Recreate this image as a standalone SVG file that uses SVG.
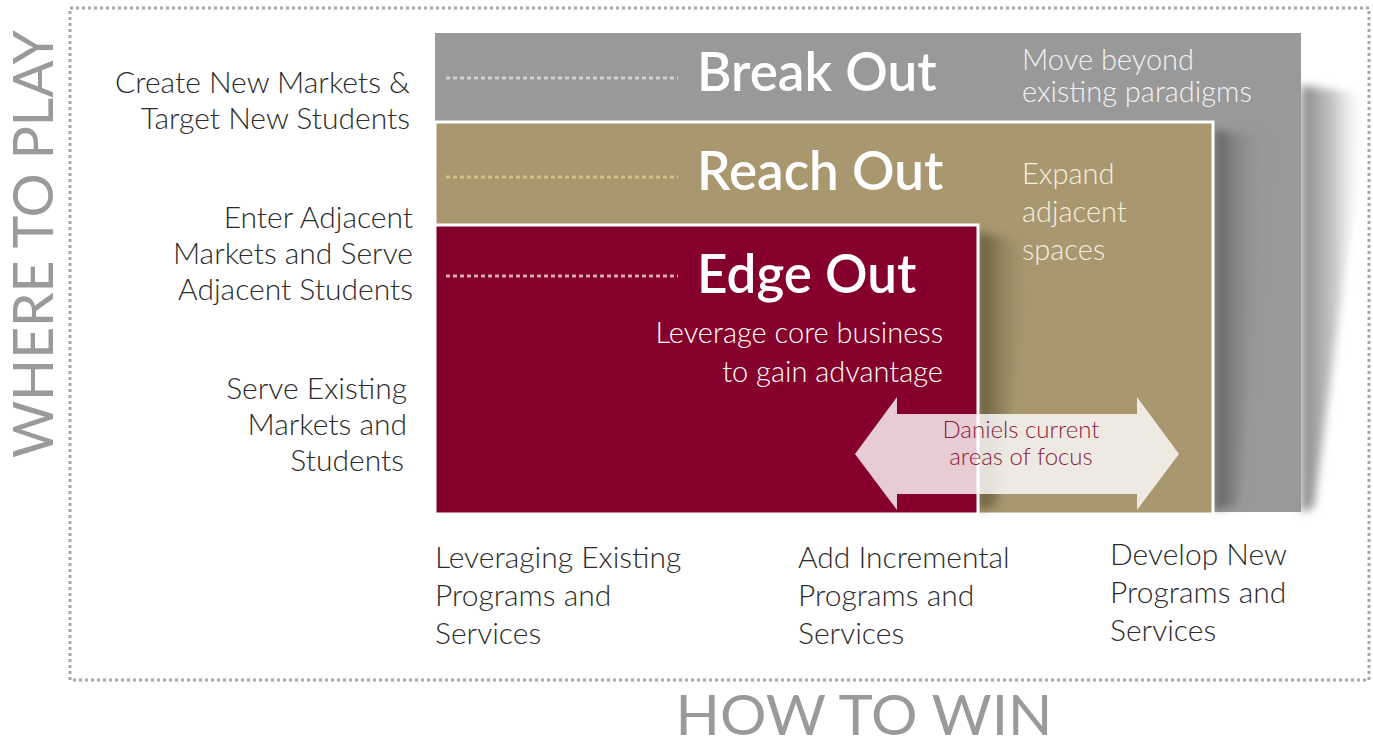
<svg xmlns="http://www.w3.org/2000/svg" width="1373" height="749" viewBox="0 0 1373 749">
<style>
.lbl{font-family:Lato,"Liberation Sans",sans-serif;font-weight:300;font-size:30px;fill:#2b2b2b}
.ttl{font-family:Lato,"Liberation Sans",sans-serif;font-weight:600;font-size:53px;fill:#ffffff}
.sub{font-family:Lato,"Liberation Sans",sans-serif;font-weight:300;font-size:29px}
.foc{font-family:Lato,"Liberation Sans",sans-serif;font-weight:300;font-size:24px;fill:#8a1c3c}
.axis{font-family:Lato,"Liberation Sans",sans-serif;font-weight:400;fill:#9a9a9a}
.dots{stroke-width:3;stroke-dasharray:4 3;fill:none}
</style>
<defs>
<linearGradient id="shW" x1="0" y1="0" x2="1" y2="0">
<stop offset="0" stop-color="#8a8a8a"/><stop offset="0.5" stop-color="#c8c8c8"/><stop offset="1" stop-color="#ffffff" stop-opacity="0"/>
</linearGradient>
<linearGradient id="shG" x1="0" y1="0" x2="1" y2="0">
<stop offset="0" stop-color="#5a5a5a" stop-opacity="0.9"/><stop offset="1" stop-color="#999999" stop-opacity="0"/>
</linearGradient>
<linearGradient id="shT" x1="0" y1="0" x2="1" y2="0">
<stop offset="0" stop-color="#5a5032" stop-opacity="0.9"/><stop offset="1" stop-color="#a8976f" stop-opacity="0"/>
</linearGradient>
<filter id="blur" x="-20%" y="-20%" width="140%" height="140%"><feGaussianBlur stdDeviation="4"/></filter>
</defs>

<rect x="70" y="8" width="1299" height="672" fill="none" stroke="#a8a8a8" stroke-width="3" stroke-dasharray="3 3"/>

<g id="break-out">
<polygon points="1301,85 1368,95 1314,508 1301,512" fill="url(#shW)" filter="url(#blur)"/>
<rect x="435" y="33" width="866" height="479" fill="#999999"/>
<line class="dots" x1="446" y1="78" x2="678" y2="78" stroke="#cfcfcf"/>
<text class="ttl" x="697" y="91">Break Out</text>
<text class="sub" fill="#f2f2f2" x="1022" y="70">Move beyond</text>
<text class="sub" fill="#f2f2f2" x="1022" y="102">existing paradigms</text>
</g>

<g id="reach-out">
<polygon points="1215,130 1268,138 1238,505 1215,510" fill="url(#shG)" filter="url(#blur)"/>
<rect x="435" y="122" width="778" height="392" fill="#a8976f" stroke="#ffffff" stroke-width="3"/>
<line class="dots" x1="446" y1="177" x2="678" y2="177" stroke="#d2c388"/>
<text class="ttl" x="697" y="190">Reach Out</text>
<text class="sub" fill="#f4efe0" x="1022" y="184">Expand</text>
<text class="sub" fill="#f4efe0" x="1022" y="222">adjacent</text>
<text class="sub" fill="#f4efe0" x="1022" y="260">spaces</text>
</g>

<g id="edge-out">
<polygon points="979,232 1032,245 998,505 979,510" fill="url(#shT)" filter="url(#blur)"/>
<rect x="435" y="225" width="543" height="289" fill="#85002b" stroke="#ffffff" stroke-width="3"/>
<line class="dots" x1="446" y1="276" x2="678" y2="276" stroke="#d9a8b4"/>
<text class="ttl" x="697" y="293">Edge Out</text>
<text class="sub" fill="#ffffff" x="943" y="343" text-anchor="end">Leverage core business</text>
<text class="sub" fill="#ffffff" x="943" y="382" text-anchor="end">to gain advantage</text>
</g>

<g id="connectors">
<polygon id="focus-arrow" points="855,454 897,397 897,414 1137,414 1137,397 1179,454 1137,510 1137,494 897,494 897,510" fill="#ffffff" fill-opacity="0.8"/>
</g>
<g id="focus-label">
<text class="foc" x="1021" y="438" text-anchor="middle">Daniels current</text>
<text class="foc" x="1021" y="465" text-anchor="middle">areas of focus</text>
</g>

<g id="row-labels">
<text class="lbl" text-anchor="end" x="410" y="93">Create New Markets &amp;</text>
<text class="lbl" text-anchor="end" x="410" y="129">Target New Students</text>
<text class="lbl" text-anchor="end" x="413" y="228">Enter Adjacent</text>
<text class="lbl" text-anchor="end" x="413" y="264">Markets and Serve</text>
<text class="lbl" text-anchor="end" x="413" y="300">Adjacent Students</text>
<text class="lbl" text-anchor="end" x="407" y="399">Serve Existing</text>
<text class="lbl" text-anchor="end" x="407" y="435">Markets and</text>
<text class="lbl" text-anchor="end" x="404" y="471">Students</text>
</g>

<g id="col-labels">
<text class="lbl" x="435" y="568">Leveraging Existing</text>
<text class="lbl" x="435" y="606">Programs and</text>
<text class="lbl" x="435" y="644">Services</text>
<text class="lbl" x="798" y="568">Add Incremental</text>
<text class="lbl" x="798" y="606">Programs and</text>
<text class="lbl" x="798" y="644">Services</text>
<text class="lbl" x="1110" y="565">Develop New</text>
<text class="lbl" x="1110" y="603">Programs and</text>
<text class="lbl" x="1110" y="641">Services</text>
</g>

<text class="axis" x="864" y="735" text-anchor="middle" font-size="56" textLength="377" lengthAdjust="spacingAndGlyphs">HOW TO WIN</text>
<text class="axis" transform="translate(53,244) rotate(-90)" x="0" y="0" text-anchor="middle" font-size="56" textLength="428" lengthAdjust="spacingAndGlyphs">WHERE TO PLAY</text>
</svg>
